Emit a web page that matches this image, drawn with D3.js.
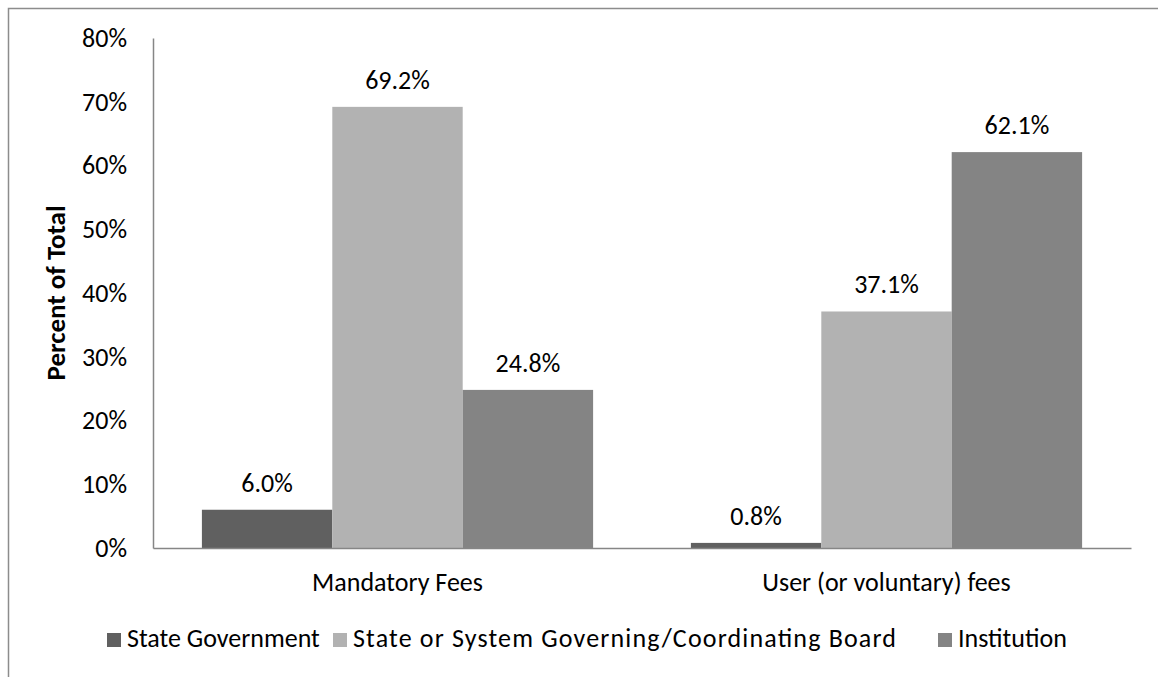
<!DOCTYPE html>
<html>
<head>
<meta charset="utf-8">
<script src="https://cdn.jsdelivr.net/npm/d3@7"></script>
<style>
  html, body { margin: 0; padding: 0; background: #fff; }
  svg text { font-family: Carlito, Lato, "Open Sans", sans-serif; fill: #000; }
</style>
</head>
<body>
<svg id="chart" width="1158" height="677"></svg>
<script>
// Who sets student fees: share of total by decision-maker
const categories = ["Mandatory Fees", "User (or voluntary) fees"];
const seriesNames = ["State Government", "State or System Governing/Coordinating Board", "Institution"];
const stateGovernment = [6.0, 0.8];
const systemBoard = [69.2, 37.1];
const institution = [24.8, 62.1];
const yTicks = [0, 10, 20, 30, 40, 50, 60, 70, 80];

const seriesValues = [stateGovernment, systemBoard, institution];
const colors = ["#606060", "#b2b2b2", "#848484"];

const svg = d3.select("#chart");
const W = 1158, H = 677;
const plot = { left: 153, right: 1131, top: 38, bottom: 548 };
const FS = 26;

// outer frame (top and left edges visible)
svg.append("path")
  .attr("d", `M8.5,${H} L8.5,8.5 L${W},8.5`)
  .attr("fill", "none")
  .attr("stroke", "#8c8c8c")
  .attr("stroke-width", 1.5);

const x0 = d3.scaleBand().domain(categories).range([plot.left, plot.right]).paddingInner(0).paddingOuter(0);
const x1 = d3.scaleBand().domain(seriesNames).range([0, x0.bandwidth()]).paddingInner(0).paddingOuter(0.375);
const y = d3.scaleLinear().domain([0, 80]).range([plot.bottom, plot.top]);

// y axis
const yAxis = d3.axisLeft(y).tickValues(yTicks).tickSize(0).tickPadding(26)
  .tickFormat(d => d + "%");
const yg = svg.append("g").attr("transform", `translate(${plot.left},0)`).call(yAxis);
yg.select(".domain").attr("stroke", "#868686").attr("stroke-width", 1.5);
yg.selectAll("text").attr("font-size", FS).attr("fill", "#000");

// bars
const groups = svg.append("g").selectAll("g")
  .data(categories)
  .join("g")
  .attr("transform", d => `translate(${x0(d)},0)`);

const cells = (c, ci) => seriesNames.map((s, si) => ({ s, si, v: seriesValues[si][ci] }));

groups.selectAll("rect")
  .data(cells)
  .join("rect")
  .attr("x", d => x1(d.s))
  .attr("y", d => y(d.v))
  .attr("width", x1.bandwidth())
  .attr("height", d => y(0) - y(d.v))
  .attr("fill", d => colors[d.si]);

// value labels
groups.selectAll("text.val")
  .data(cells)
  .join("text")
  .attr("class", "val")
  .attr("x", d => x1(d.s) + x1.bandwidth() / 2)
  .attr("y", d => y(d.v) - 18)
  .attr("text-anchor", "middle")
  .attr("font-size", FS)
  .text(d => d.v.toFixed(1) + "%");

// x axis
const xAxis = d3.axisBottom(x0).tickSize(0).tickPadding(25);
const xg = svg.append("g").attr("transform", `translate(0,${plot.bottom})`).call(xAxis);
xg.select(".domain").attr("stroke", "#868686").attr("stroke-width", 1.5);
xg.selectAll("text").attr("font-size", FS).attr("fill", "#000");

// y axis title
svg.append("text")
  .attr("transform", `translate(65,${(plot.top + plot.bottom) / 2}) rotate(-90)`)
  .attr("text-anchor", "middle")
  .attr("font-size", 27)
  .attr("font-weight", "bold")
  .text("Percent of Total");

// legend: each entry sits in a fixed slot; the long board label fills its slot
const legendX = [107, 333, 938];
const legendTextWidth = [null, 543, null];
const legend = svg.append("g").selectAll("g")
  .data(seriesNames)
  .join("g")
  .attr("transform", (d, i) => `translate(${legendX[i]},647)`);
legend.append("rect")
  .attr("x", 0).attr("y", -14).attr("width", 14).attr("height", 14)
  .attr("fill", (d, i) => colors[i]);
legend.append("text")
  .attr("x", 20).attr("y", 0)
  .attr("font-size", FS)
  .each(function (d, i) {
    if (legendTextWidth[i]) {
      d3.select(this).attr("textLength", legendTextWidth[i]).attr("lengthAdjust", "spacing");
    }
  })
  .text(d => d);
</script>
</body>
</html>
